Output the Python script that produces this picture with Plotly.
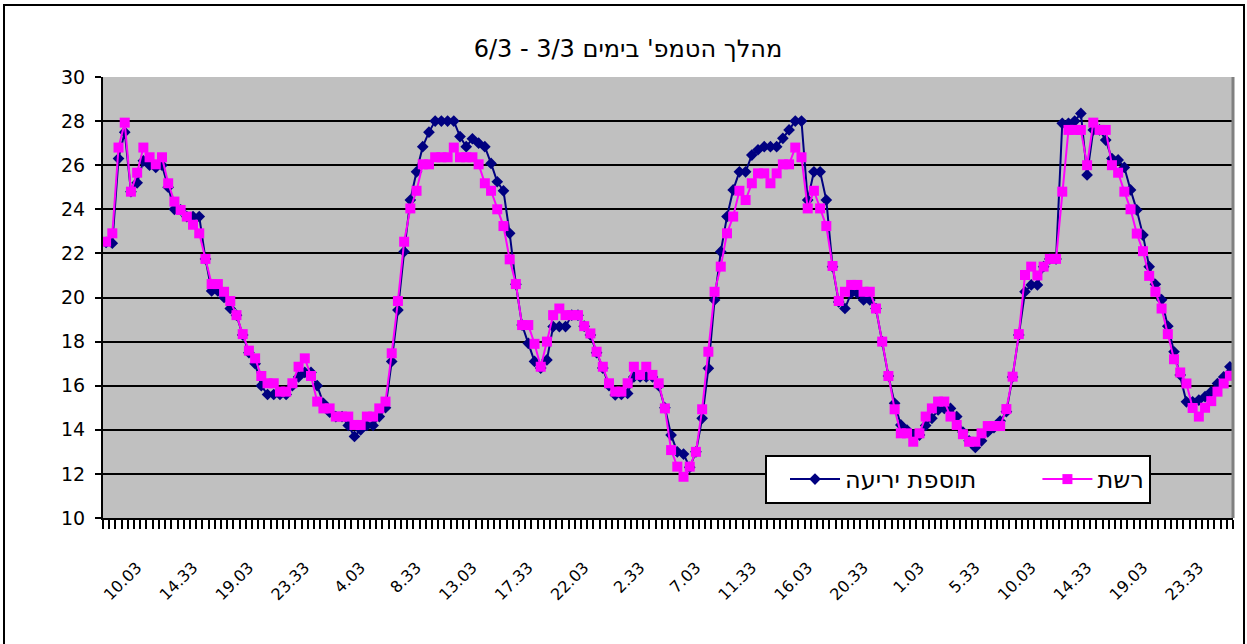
import plotly.graph_objects as go

title_text = "\u202Bמהלך הטמפ' בימים 3/3 - 6/3\u202C"
series_names = ["תוספת יריעה", "רשת"]
tick_labels = ["10.03", "14.33", "19.03", "23.33", "4.03", "8.33", "13.03", "17.33",
               "22.03", "2.33", "7.03", "11.33", "16.03", "20.33", "1.03", "5.33",
               "10.03", "14.33", "19.03", "23.33"]
first_label_index = 5
label_step = 9

# "רשת" (magenta squares), one reading every half hour
net = [
    22.53, 22.91, 26.8, 27.93, 24.8, 25.66, 26.8, 26.36, 26.04, 26.36,
    25.18, 24.35, 23.97, 23.67, 23.3, 22.91, 21.75, 20.61, 20.61, 20.26,
    19.84, 19.2, 18.34, 17.59, 17.24, 16.44, 16.11, 16.11, 15.73, 15.73,
    16.11, 16.86, 17.24, 16.44, 15.28, 14.97, 14.97, 14.6, 14.6, 14.6,
    14.22, 14.22, 14.6, 14.6, 14.97, 15.28, 17.47,
    19.84, 22.53, 24.04, 24.84, 26.04, 26.04, 26.36, 26.36, 26.36, 26.8,
    26.36, 26.36, 26.36, 26.04, 25.18, 24.84, 24.0, 23.24, 21.73, 20.61,
    18.75, 18.75, 17.9, 16.86, 18.0, 19.2, 19.5, 19.2, 19.2, 19.2,
    18.7, 18.37, 17.54, 16.86, 16.11, 15.73, 15.73, 16.11, 16.86, 16.49,
    16.86, 16.49, 16.11, 14.97, 13.08, 12.33, 11.87,
    12.33, 13.0, 14.93, 17.54, 20.26, 21.4, 22.91, 23.67, 24.84, 24.42,
    25.18, 25.63, 25.63, 25.18, 25.63, 26.04, 26.04, 26.8, 26.36, 24.04,
    24.84, 24.04, 23.24, 21.43, 19.84, 20.26, 20.57, 20.57, 20.26, 20.26,
    19.5, 18.0, 16.44, 14.93, 13.84, 13.84, 13.46, 13.84, 14.6, 14.97,
    15.28, 15.28, 14.6, 14.22,
    13.8, 13.46, 13.46, 13.84, 14.17, 14.17, 14.17, 14.94, 16.41, 18.34,
    21.02, 21.4, 21.0, 21.4, 21.75, 21.75, 24.8, 27.6, 27.6, 27.6,
    26.0, 27.93, 27.6, 27.6, 26.0, 25.66, 24.8, 24.0, 22.9, 22.1,
    20.98, 20.26, 19.5, 18.34, 17.2, 16.6, 16.1, 14.99, 14.6, 15.0,
    15.3, 15.73, 16.1, 16.45,
]

# "תוספת יריעה" (navy diamonds)
sheet = [
    22.5, 22.46, 26.3, 27.5, 24.8, 25.2, 26.2, 26.0, 25.9, 26.0,
    25.0, 24.0, 23.97, 23.67, 23.67, 23.67, 21.75, 20.3, 20.3, 20.0,
    19.5, 19.2, 18.3, 17.5, 17.0, 16.0, 15.6, 15.6, 15.6, 15.6,
    16.0, 16.4, 16.6, 16.6, 16.0, 15.2, 14.8, 14.6, 14.6, 14.2,
    13.7, 14.0, 14.2, 14.2, 14.6, 15.0, 17.1,
    19.43, 22.08, 24.42, 25.7, 26.84, 27.5, 28.0, 28.0, 28.0, 28.0,
    27.3, 26.84, 27.2, 27.0, 26.84, 26.08, 25.25, 24.84, 22.91, 20.6,
    18.75, 17.92, 17.1, 16.8, 17.17, 18.68, 18.68, 18.68, 19.2, 19.2,
    18.7, 18.3, 17.5, 16.8, 16.0, 15.58, 15.6, 15.65, 16.4, 16.4,
    16.4, 16.4, 16.0, 15.0, 13.76, 13.0, 12.9,
    12.3, 13.0, 14.52, 16.79, 19.89, 22.08, 23.67, 24.88, 25.7, 25.7,
    26.46, 26.7, 26.84, 26.84, 26.84, 27.22, 27.6, 28.0, 28.0, 24.42,
    25.7, 25.7, 24.42, 21.4, 19.8, 19.5, 20.2, 20.2, 19.89, 19.89,
    19.5, 18.0, 16.44, 15.2, 14.22, 13.99, 13.76, 13.76, 14.2, 14.52,
    14.9, 14.97, 14.97, 14.6,
    13.9, 13.5, 13.2, 13.5, 13.9, 14.1, 14.4, 14.82, 16.4, 18.3,
    20.26, 20.57, 20.57, 21.4, 21.75, 21.75, 27.9, 27.9, 28.0, 28.35,
    25.56, 27.6, 27.6, 27.14, 26.3, 26.24, 25.9, 24.88, 23.97, 22.83,
    21.4, 20.6, 19.9, 18.7, 17.54, 16.49, 15.27, 15.27, 15.35, 15.5,
    15.73, 16.1, 16.4, 16.86,
]

N = max(len(net), len(sheet))
xs = list(range(N))
tickvals = [first_label_index + label_step * k for k in range(len(tick_labels))]

W, H = 1247, 644
L, R, T, B = 103, 1233, 77, 518
pw, ph = R - L, B - T


def px_x(p):
    return (p - L) / pw


def px_y(p):
    return (B - p) / ph


fig = go.Figure()
fig.add_trace(go.Scatter(
    x=xs[:len(sheet)], y=sheet, name=series_names[0] + "\u00a0" * 5, mode="lines+markers",
    line=dict(color="#000080", width=2),
    marker=dict(symbol="diamond", size=9, color="#000080"),
))
fig.add_trace(go.Scatter(
    x=xs[:len(net)], y=net, name=series_names[1], mode="lines+markers",
    line=dict(color="#FF00FF", width=2),
    marker=dict(symbol="square", size=10, color="#FF00FF"),
))

ff = "DejaVu Sans, Liberation Sans, Arial, sans-serif"

fig.update_layout(
    width=W, height=H,
    margin=dict(l=L, r=W - R, t=T, b=H - B, pad=0, autoexpand=False),
    paper_bgcolor="white",
    plot_bgcolor="#C0C0C0",
    font=dict(family=ff, size=16, color="black"),
    title=dict(text=title_text, x=628 / W, xanchor="center",
               y=1 - 49 / H, yanchor="middle",
               font=dict(family=ff, size=24, color="black")),
    showlegend=True,
    legend=dict(orientation="h", x=px_x(765), y=px_y(455), xanchor="left", yanchor="top",
                bgcolor="white", bordercolor="black", borderwidth=2,
                font=dict(family=ff, size=24, color="black"),
                itemwidth=50, indentation=18, tracegroupgap=0),
    xaxis=dict(
        range=[-0.5, N - 0.5], tickmode="array", tickvals=tickvals, ticktext=tick_labels,
        tickangle=-45, ticks="", showgrid=False, zeroline=False,
        showline=True, linecolor="black", linewidth=2,
        ticklabelstandoff=32,
        tickfont=dict(family=ff, size=16, color="black"),
        minor=dict(ticks="outside", tickmode="linear", tick0=0.5, dtick=1,
                   ticklen=9, tickwidth=2, tickcolor="black", showgrid=False),
    ),
    yaxis=dict(
        range=[10, 30], tickmode="linear", tick0=10, dtick=2,
        ticks="outside", ticklen=6, tickwidth=2, tickcolor="black",
        showgrid=True, gridcolor="black", gridwidth=2, zeroline=False,
        showline=True, linecolor="black", linewidth=2,
        ticklabelstandoff=6,
        tickfont=dict(family=ff, size=19, color="black"),
    ),
    shapes=[
        dict(type="rect", xref="paper", yref="paper",
             x0=px_x(4), x1=px_x(1244), y0=px_y(660), y1=px_y(5),
             line=dict(color="black", width=2), layer="below"),
        dict(type="line", xref="paper", yref="paper",
             x0=1, x1=1, y0=0, y1=1, line=dict(color="#808080", width=3)),
    ],
)

fig.write_html("out.html", config={"displayModeBar": False},
               post_script="document.body.style.margin='0';document.body.style.overflow='hidden';")
